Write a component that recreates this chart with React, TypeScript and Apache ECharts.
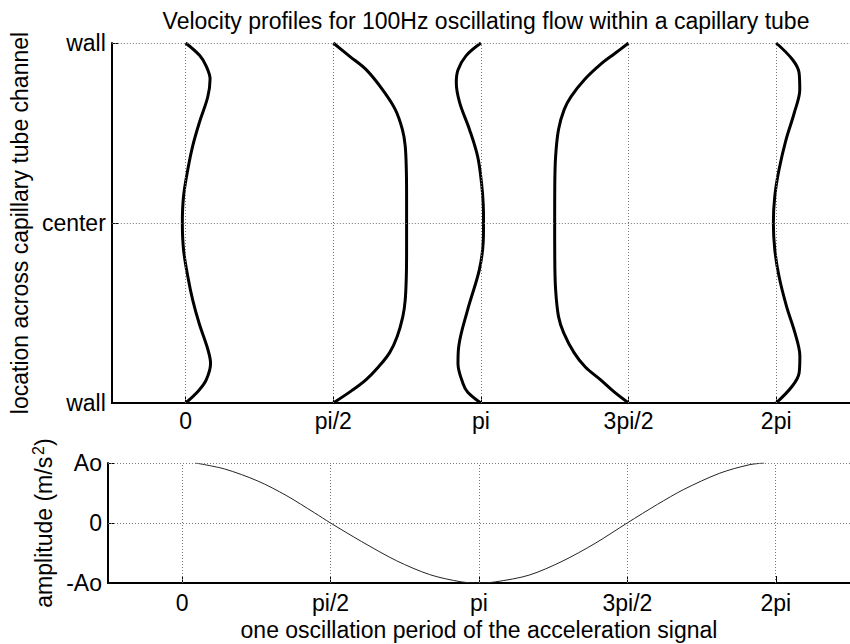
import React, { useEffect, useRef } from "react";
import * as echarts from "echarts";

const PI = Math.PI;
const FONT = "'Liberation Sans', Arial, Helvetica, sans-serif";

const titleText = "Velocity profiles for 100Hz oscillating flow within a capillary tube";
const topYName = "location across capillary tube channel";
const bottomYName = "amplitude (m/s{sup|2})";
const bottomXName = "one oscillation period of the acceleration signal";

const xTickValues = [0, PI / 2, PI, (3 * PI) / 2, 2 * PI];
const xTickLabels = ["0", "pi/2", "pi", "3pi/2", "2pi"];
const topYTickValues = [-1, 0, 1];
const topYTickLabels = ["wall", "center", "wall"];
const bottomYTickValues = [-1, 0, 1];
const bottomYTickLabels = ["-Ao", "0", "Ao"];

// phase at which each profile is drawn
const profileOffsets = [0, PI / 2, PI, (3 * PI) / 2, 2 * PI];

// position across the channel (1 = wall, 0 = center, -1 = wall) and velocity displacement (x-axis units)
const profile0Y = [1, 0.93, 0.87, 0.8, 0.7, 0.56, 0.43, 0.3, 0.15, 0, -0.15, -0.3, -0.43, -0.56, -0.7, -0.78, -0.87, -0.93, -1];
const profile0U = [0, 0.15, 0.22, 0.26, 0.235, 0.147, 0.076, 0.024, -0.022, -0.035, -0.022, 0.024, 0.076, 0.145, 0.235, 0.265, 0.22, 0.14, 0];

const profile1Y = [1, 0.926, 0.852, 0.741, 0.63, 0.52, 0.43, 0.3, 0.15, 0, -0.15, -0.3, -0.43, -0.52, -0.63, -0.72, -0.8, -0.87, -0.93, -1];
const profile1U = [0, 0.175, 0.35, 0.524, 0.66, 0.735, 0.765, 0.777, 0.78, 0.78, 0.78, 0.777, 0.765, 0.74, 0.68, 0.6, 0.48, 0.35, 0.2, 0];

const profile2Y = [1, 0.93, 0.85, 0.78, 0.67, 0.52, 0.37, 0.22, 0.1, 0, -0.1, -0.26, -0.48, -0.69, -0.78, -0.89, -0.94, -1];
const profile2U = [0, -0.157, -0.244, -0.262, -0.227, -0.122, -0.035, 0.007, 0.025, 0.028, 0.025, -0.017, -0.14, -0.237, -0.244, -0.192, -0.14, 0];

const profile3Y = [1, 0.94, 0.889, 0.796, 0.703, 0.63, 0.52, 0.37, 0.2, 0, -0.2, -0.37, -0.52, -0.61, -0.72, -0.8, -0.87, -0.94, -1];
const profile3U = [0, -0.15, -0.28, -0.47, -0.61, -0.685, -0.745, -0.776, -0.785, -0.786, -0.785, -0.776, -0.745, -0.69, -0.58, -0.46, -0.3, -0.15, 0];

const profile4Y = [1, 0.907, 0.833, 0.741, 0.611, 0.463, 0.296, 0.148, 0, -0.148, -0.296, -0.463, -0.611, -0.741, -0.833, -0.907, -1];
const profile4U = [0, 0.175, 0.244, 0.251, 0.192, 0.105, 0.03, -0.015, -0.03, -0.015, 0.03, 0.11, 0.2, 0.252, 0.244, 0.17, 0];

const profileYs = [profile0Y, profile1Y, profile2Y, profile3Y, profile4Y];
const profileUs = [profile0U, profile1U, profile2U, profile3U, profile4U];

// acceleration signal over one period
const signalX = [0.14, 0.45, 0.8, 1.1, 1.4, 1.57, 1.9, 2.27, 2.62, 2.95, 3.14, 3.32, 3.67, 4.02, 4.37, 4.71, 5.03, 5.31, 5.69, 6.0, 6.16];
const signalY = [1.0, 0.9, 0.7, 0.46, 0.17, 0.0, -0.31, -0.63, -0.86, -0.98, -1.0, -0.98, -0.87, -0.64, -0.34, 0.0, 0.31, 0.56, 0.83, 0.97, 1.0];

function lookup(values: number[], labels: string[], v: number): string {
  for (let i = 0; i < values.length; i++) {
    if (Math.abs(values[i] - v) < 1e-6) return labels[i];
  }
  return "";
}

const gridLineStyle = { color: "#777", width: 1, type: [1, 2] as any };

function makeXAxis(gridIndex: number, margin: number, name?: string) {
  return {
    type: "value",
    gridIndex,
    min: -PI / 4,
    max: 2 * PI + PI / 4,
    name: name || "",
    nameLocation: "middle",
    nameGap: 35,
    nameTextStyle: { fontSize: 23, color: "#000", fontFamily: FONT },
    axisLine: { show: true, onZero: false, lineStyle: { color: "#000", width: 2 } },
    axisTick: { show: true, inside: true, length: 7, customValues: xTickValues, lineStyle: { color: "#000", width: 1 } },
    axisLabel: {
      show: true,
      customValues: xTickValues,
      formatter: (v: number) => lookup(xTickValues, xTickLabels, v),
      margin,
      fontSize: 23,
      color: "#000",
      fontFamily: FONT,
    },
    splitLine: { show: false },
  };
}

function makeYAxis(gridIndex: number, values: number[], labels: string[], name: string, nameGap: number) {
  return {
    type: "value",
    gridIndex,
    min: -1,
    max: 1,
    interval: 1,
    name,
    nameLocation: "middle",
    nameGap,
    nameRotate: 90,
    nameTextStyle: {
      fontSize: 23,
      color: "#000",
      fontFamily: FONT,
      rich: {
        sup: { fontSize: 16, color: "#000", fontFamily: FONT, verticalAlign: "top", padding: [0, 0, 10, 2] },
      },
    },
    axisLine: { show: true, onZero: false, lineStyle: { color: "#000", width: 2 } },
    axisTick: { show: true, inside: true, length: 7, lineStyle: { color: "#000", width: 1 } },
    axisLabel: {
      show: true,
      formatter: (v: number) => lookup(values, labels, v),
      margin: 6,
      fontSize: 23,
      color: "#000",
      fontFamily: FONT,
    },
    splitLine: { show: false },
  };
}

function gridSeries(xi: number) {
  return {
    type: "line",
    xAxisIndex: xi,
    yAxisIndex: xi,
    data: [],
    silent: true,
    z: 1,
    markLine: {
      silent: true,
      symbol: ["none", "none"],
      label: { show: false },
      lineStyle: gridLineStyle,
      emphasis: { disabled: true },
      data: [
        ...xTickValues.map((v) => ({ xAxis: v })),
        { yAxis: 0 },
        { yAxis: 1 },
      ],
    },
  };
}

export default function App() {
  const ref = useRef<HTMLDivElement>(null);
  useEffect(() => {
    if (!ref.current) return;
    const chart = echarts.init(ref.current, undefined, { renderer: "svg" });

    const profileSeries = profileOffsets.map((off, k) => ({
      type: "line",
      xAxisIndex: 0,
      yAxisIndex: 0,
      data: profileYs[k].map((y, i) => [off + profileUs[k][i], y]),
      showSymbol: false,
      symbol: "none",
      smooth: 0.35,
      lineStyle: { color: "#000", width: 3 },
      z: 3,
      silent: true,
    }));

    const signalSeries = {
      type: "line",
      xAxisIndex: 1,
      yAxisIndex: 1,
      data: signalX.map((x, i) => [x, signalY[i]]),
      showSymbol: false,
      symbol: "none",
      smooth: 0.3,
      lineStyle: { color: "#222", width: 1 },
      z: 3,
      silent: true,
    };

    chart.setOption({
      animation: false,
      backgroundColor: "#fff",
      textStyle: { fontFamily: FONT },
      title: {
        text: titleText,
        left: 481,
        top: 4,
        textAlign: "center",
        textStyle: { fontSize: 23, fontWeight: "normal", color: "#000", fontFamily: FONT },
      },
      grid: [
        { left: 108, top: 43, width: 750, height: 360 },
        { left: 108, top: 463, width: 750, height: 120 },
      ],
      xAxis: [makeXAxis(0, 6), makeXAxis(1, 8, bottomXName)],
      yAxis: [
        makeYAxis(0, topYTickValues, topYTickLabels, topYName, 76),
        makeYAxis(1, bottomYTickValues, bottomYTickLabels, bottomYName, 46),
      ],
      series: [gridSeries(0), gridSeries(1), ...profileSeries, signalSeries],
    });
    return () => chart.dispose();
  }, []);
  return (
    <div
      ref={ref}
      style={{ position: "fixed", left: 0, top: 0, width: 850, height: 644, background: "#fff" }}
    />
  );
}
